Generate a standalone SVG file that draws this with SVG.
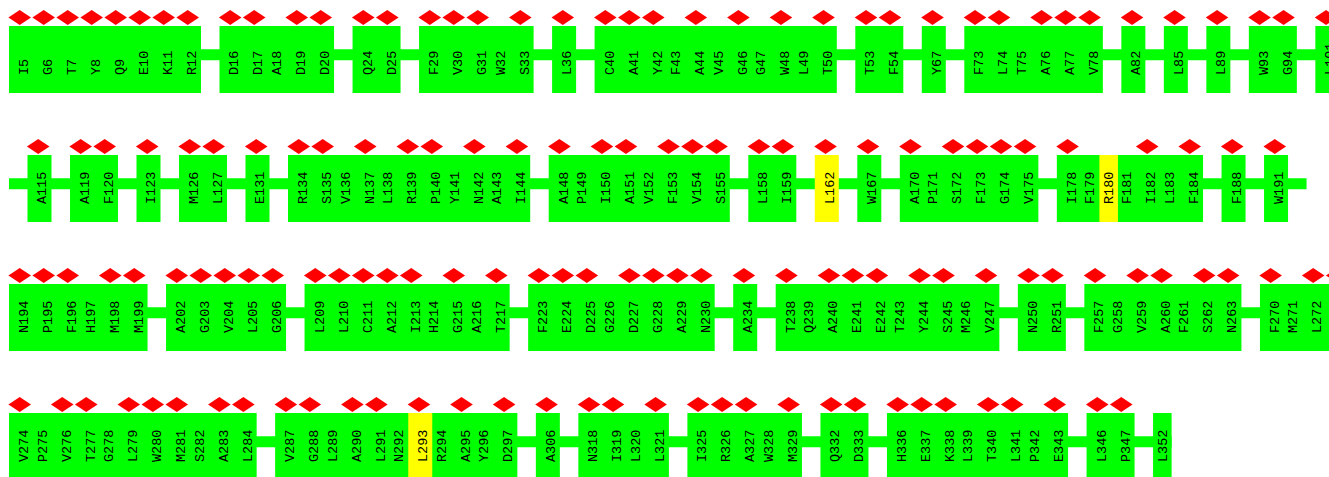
<svg xmlns="http://www.w3.org/2000/svg" width="1329" height="477" viewBox="0 0 1329 477">
<style>
.b{fill:#00ff00}
.y{fill:#ffff00}
.c{stroke:#00ff00;stroke-width:11;fill:none}
text{font-family:"Liberation Mono","Courier New",monospace;font-size:13.5px;fill:#000}
</style>
<defs><path id="dm" d="M-11.3 0L0-7.5L11.3 0L0 7.5Z" fill="#ff0000"/></defs>
<rect width="1329" height="477" fill="#ffffff"/>
<g id="connectors">
<line class="c" x1="9" y1="54.8" x2="1340" y2="54.8"/>
<line class="c" x1="9" y1="183.8" x2="1306.55" y2="183.8"/>
<line class="c" x1="9" y1="312.8" x2="1340" y2="312.8"/>
<line class="c" x1="9" y1="441.8" x2="1171.6" y2="441.8"/>
</g>
<!-- Row 1 -->
<g id="seg-I5-R12"><rect class="b" x="9" y="26" width="192" height="67"/>
<use href="#dm" x="19.7" y="17.5"/><use href="#dm" x="43.7" y="17.5"/><use href="#dm" x="67.7" y="17.5"/><use href="#dm" x="91.7" y="17.5"/><use href="#dm" x="115.7" y="17.5"/><use href="#dm" x="139.7" y="17.5"/><use href="#dm" x="163.7" y="17.5"/><use href="#dm" x="187.7" y="17.5"/>
<g transform="rotate(-90)"><text x="-75" y="27.95">I5</text><text x="-75" y="51.95">G6</text><text x="-75" y="75.95">T7</text><text x="-75" y="99.95">Y8</text><text x="-75" y="123.95">Q9</text><text x="-75" y="147.95">E10</text><text x="-75" y="171.95">K11</text><text x="-75" y="195.95">R12</text></g></g>
<g id="seg-D16-D20"><rect class="b" x="219.5" y="26" width="114.55" height="67"/>
<use href="#dm" x="230.2" y="17.5"/><use href="#dm" x="254.2" y="17.5"/><use href="#dm" x="296.75" y="17.5"/><use href="#dm" x="320.75" y="17.5"/>
<g transform="rotate(-90)"><text x="-75" y="238.45">D16</text><text x="-75" y="262.45">D17</text><text x="-75" y="281">A18</text><text x="-75" y="305">D19</text><text x="-75" y="329">D20</text></g></g>
<g id="seg-Q24-D25"><rect class="b" x="352.55" y="26" width="48" height="67"/>
<use href="#dm" x="363.25" y="17.5"/><use href="#dm" x="387.25" y="17.5"/>
<g transform="rotate(-90)"><text x="-75" y="371.5">Q24</text><text x="-75" y="395.5">D25</text></g></g>
<g id="seg-F29-S33"><rect class="b" x="419.05" y="26" width="114.55" height="67"/>
<use href="#dm" x="429.75" y="17.5"/><use href="#dm" x="453.75" y="17.5"/><use href="#dm" x="477.75" y="17.5"/><use href="#dm" x="520.3" y="17.5"/>
<g transform="rotate(-90)"><text x="-75" y="438">F29</text><text x="-75" y="462">V30</text><text x="-75" y="486">G31</text><text x="-75" y="504.55">W32</text><text x="-75" y="528.55">S33</text></g></g>
<g id="seg-L36"><rect class="b" x="552.1" y="26" width="24" height="67"/>
<use href="#dm" x="562.8" y="17.5"/>
<g transform="rotate(-90)"><text x="-75" y="571.05">L36</text></g></g>
<g id="seg-C40-T50"><rect class="b" x="594.6" y="26" width="242.2" height="67"/>
<use href="#dm" x="605.3" y="17.5"/><use href="#dm" x="629.3" y="17.5"/><use href="#dm" x="653.3" y="17.5"/><use href="#dm" x="695.85" y="17.5"/><use href="#dm" x="738.4" y="17.5"/><use href="#dm" x="780.95" y="17.5"/><use href="#dm" x="823.5" y="17.5"/>
<g transform="rotate(-90)"><text x="-75" y="613.55">C40</text><text x="-75" y="637.55">A41</text><text x="-75" y="661.55">Y42</text><text x="-75" y="680.1">F43</text><text x="-75" y="704.1">A44</text><text x="-75" y="722.65">V45</text><text x="-75" y="746.65">G46</text><text x="-75" y="765.2">G47</text><text x="-75" y="789.2">W48</text><text x="-75" y="807.75">L49</text><text x="-75" y="831.75">T50</text></g></g>
<g id="seg-T53-F54"><rect class="b" x="855.3" y="26" width="48" height="67"/>
<use href="#dm" x="866" y="17.5"/><use href="#dm" x="890" y="17.5"/>
<g transform="rotate(-90)"><text x="-75" y="874.25">T53</text><text x="-75" y="898.25">F54</text></g></g>
<g id="seg-Y67"><rect class="b" x="921.8" y="26" width="24" height="67"/>
<use href="#dm" x="932.5" y="17.5"/>
<g transform="rotate(-90)"><text x="-75" y="940.75">Y67</text></g></g>
<g id="seg-F73-V78"><rect class="b" x="964.3" y="26" width="138.55" height="67"/>
<use href="#dm" x="975" y="17.5"/><use href="#dm" x="999" y="17.5"/><use href="#dm" x="1041.55" y="17.5"/><use href="#dm" x="1065.55" y="17.5"/><use href="#dm" x="1089.55" y="17.5"/>
<g transform="rotate(-90)"><text x="-75" y="983.25">F73</text><text x="-75" y="1007.25">L74</text><text x="-75" y="1025.8">T75</text><text x="-75" y="1049.8">A76</text><text x="-75" y="1073.8">A77</text><text x="-75" y="1097.8">V78</text></g></g>
<g id="seg-A82"><rect class="b" x="1121.35" y="26" width="24" height="67"/>
<use href="#dm" x="1132.05" y="17.5"/>
<g transform="rotate(-90)"><text x="-75" y="1140.3">A82</text></g></g>
<g id="seg-L85"><rect class="b" x="1163.85" y="26" width="24" height="67"/>
<use href="#dm" x="1174.55" y="17.5"/>
<g transform="rotate(-90)"><text x="-75" y="1182.8">L85</text></g></g>
<g id="seg-L89"><rect class="b" x="1206.35" y="26" width="24" height="67"/>
<use href="#dm" x="1217.05" y="17.5"/>
<g transform="rotate(-90)"><text x="-75" y="1225.3">L89</text></g></g>
<g id="seg-W93-G94"><rect class="b" x="1248.85" y="26" width="48" height="67"/>
<use href="#dm" x="1259.55" y="17.5"/><use href="#dm" x="1283.55" y="17.5"/>
<g transform="rotate(-90)"><text x="-75" y="1267.8">W93</text><text x="-75" y="1291.8">G94</text></g></g>
<g id="seg-L101"><rect class="b" x="1315.35" y="26" width="30" height="67"/>
<use href="#dm" x="1326.05" y="17.5"/>
<g transform="rotate(-90)"><text x="-75" y="1334.3">L101</text></g></g>
<!-- Row 2 -->
<g id="seg-A115"><rect class="b" x="27.5" y="155" width="24" height="67"/>
<use href="#dm" x="38.2" y="146.5"/>
<g transform="rotate(-90)"><text x="-204" y="46.45">A115</text></g></g>
<g id="seg-A119-F120"><rect class="b" x="70" y="155" width="48" height="67"/>
<use href="#dm" x="80.7" y="146.5"/><use href="#dm" x="104.7" y="146.5"/>
<g transform="rotate(-90)"><text x="-204" y="88.95">A119</text><text x="-204" y="112.95">F120</text></g></g>
<g id="seg-I123"><rect class="b" x="136.5" y="155" width="24" height="67"/>
<use href="#dm" x="147.2" y="146.5"/>
<g transform="rotate(-90)"><text x="-204" y="155.45">I123</text></g></g>
<g id="seg-M126-L127"><rect class="b" x="179" y="155" width="48" height="67"/>
<use href="#dm" x="189.7" y="146.5"/><use href="#dm" x="213.7" y="146.5"/>
<g transform="rotate(-90)"><text x="-204" y="197.95">M126</text><text x="-204" y="221.95">L127</text></g></g>
<g id="seg-E131"><rect class="b" x="245.5" y="155" width="24" height="67"/>
<use href="#dm" x="256.2" y="146.5"/>
<g transform="rotate(-90)"><text x="-204" y="264.45">E131</text></g></g>
<g id="seg-R134-I144"><rect class="b" x="288" y="155" width="242.2" height="67"/>
<use href="#dm" x="298.7" y="146.5"/><use href="#dm" x="322.7" y="146.5"/><use href="#dm" x="365.25" y="146.5"/><use href="#dm" x="407.8" y="146.5"/><use href="#dm" x="431.8" y="146.5"/><use href="#dm" x="474.35" y="146.5"/><use href="#dm" x="516.9" y="146.5"/>
<g transform="rotate(-90)"><text x="-204" y="306.95">R134</text><text x="-204" y="330.95">S135</text><text x="-204" y="349.5">V136</text><text x="-204" y="373.5">N137</text><text x="-204" y="392.05">L138</text><text x="-204" y="416.05">R139</text><text x="-204" y="440.05">P140</text><text x="-204" y="458.6">Y141</text><text x="-204" y="482.6">N142</text><text x="-204" y="501.15">A143</text><text x="-204" y="525.15">I144</text></g></g>
<g id="seg-A148-S155"><rect class="b" x="548.7" y="155" width="181.1" height="67"/>
<use href="#dm" x="559.4" y="146.5"/><use href="#dm" x="601.95" y="146.5"/><use href="#dm" x="625.95" y="146.5"/><use href="#dm" x="668.5" y="146.5"/><use href="#dm" x="692.5" y="146.5"/><use href="#dm" x="716.5" y="146.5"/>
<g transform="rotate(-90)"><text x="-204" y="567.65">A148</text><text x="-204" y="586.2">P149</text><text x="-204" y="610.2">I150</text><text x="-204" y="634.2">A151</text><text x="-204" y="652.75">V152</text><text x="-204" y="676.75">F153</text><text x="-204" y="700.75">V154</text><text x="-204" y="724.75">S155</text></g></g>
<g id="seg-L158-I159"><rect class="b" x="748.3" y="155" width="48" height="67"/>
<use href="#dm" x="759" y="146.5"/><use href="#dm" x="783" y="146.5"/>
<g transform="rotate(-90)"><text x="-204" y="767.25">L158</text><text x="-204" y="791.25">I159</text></g></g>
<g id="seg-L162"><rect class="y" x="814.8" y="155" width="24" height="67"/>
<use href="#dm" x="825.5" y="146.5"/>
<g transform="rotate(-90)"><text x="-204" y="833.75">L162</text></g></g>
<g id="seg-W167"><rect class="b" x="857.3" y="155" width="24" height="67"/>
<use href="#dm" x="868" y="146.5"/>
<g transform="rotate(-90)"><text x="-204" y="876.25">W167</text></g></g>
<g id="seg-A170-V175"><rect class="b" x="899.8" y="155" width="138.55" height="67"/>
<use href="#dm" x="910.5" y="146.5"/><use href="#dm" x="953.05" y="146.5"/><use href="#dm" x="977.05" y="146.5"/><use href="#dm" x="1001.05" y="146.5"/><use href="#dm" x="1025.05" y="146.5"/>
<g transform="rotate(-90)"><text x="-204" y="918.75">A170</text><text x="-204" y="937.3">P171</text><text x="-204" y="961.3">S172</text><text x="-204" y="985.3">F173</text><text x="-204" y="1009.3">G174</text><text x="-204" y="1033.3">V175</text></g></g>
<g id="seg-I178-F184"><rect class="b" x="1056.85" y="155" width="146.2" height="67"/><rect class="y" x="1099.4" y="155" width="18.55" height="67"/>
<use href="#dm" x="1067.55" y="146.5"/><use href="#dm" x="1147.2" y="146.5"/><use href="#dm" x="1189.75" y="146.5"/>
<g transform="rotate(-90)"><text x="-204" y="1075.8">I178</text><text x="-204" y="1094.35">F179</text><text x="-204" y="1112.9">R180</text><text x="-204" y="1131.45">F181</text><text x="-204" y="1155.45">I182</text><text x="-204" y="1174">L183</text><text x="-204" y="1198">F184</text></g></g>
<g id="seg-F188"><rect class="b" x="1221.55" y="155" width="24" height="67"/>
<use href="#dm" x="1232.25" y="146.5"/>
<g transform="rotate(-90)"><text x="-204" y="1240.5">F188</text></g></g>
<g id="seg-W191"><rect class="b" x="1264.05" y="155" width="24" height="67"/>
<use href="#dm" x="1274.75" y="146.5"/>
<g transform="rotate(-90)"><text x="-204" y="1283">W191</text></g></g>
<!-- Row 3 -->
<g id="seg-N194-M199"><rect class="b" x="9" y="284" width="138.55" height="67"/>
<use href="#dm" x="19.7" y="275.5"/><use href="#dm" x="43.7" y="275.5"/><use href="#dm" x="67.7" y="275.5"/><use href="#dm" x="110.25" y="275.5"/><use href="#dm" x="134.25" y="275.5"/>
<g transform="rotate(-90)"><text x="-333" y="27.95">N194</text><text x="-333" y="51.95">P195</text><text x="-333" y="75.95">F196</text><text x="-333" y="94.5">H197</text><text x="-333" y="118.5">M198</text><text x="-333" y="142.5">M199</text></g></g>
<g id="seg-A202-G206"><rect class="b" x="166.05" y="284" width="120" height="67"/>
<use href="#dm" x="176.75" y="275.5"/><use href="#dm" x="200.75" y="275.5"/><use href="#dm" x="224.75" y="275.5"/><use href="#dm" x="248.75" y="275.5"/><use href="#dm" x="272.75" y="275.5"/>
<g transform="rotate(-90)"><text x="-333" y="185">A202</text><text x="-333" y="209">G203</text><text x="-333" y="233">V204</text><text x="-333" y="257">L205</text><text x="-333" y="281">G206</text></g></g>
<g id="seg-L209-T217"><rect class="b" x="304.55" y="284" width="205.1" height="67"/>
<use href="#dm" x="315.25" y="275.5"/><use href="#dm" x="339.25" y="275.5"/><use href="#dm" x="363.25" y="275.5"/><use href="#dm" x="387.25" y="275.5"/><use href="#dm" x="411.25" y="275.5"/><use href="#dm" x="453.8" y="275.5"/><use href="#dm" x="496.35" y="275.5"/>
<g transform="rotate(-90)"><text x="-333" y="323.5">L209</text><text x="-333" y="347.5">L210</text><text x="-333" y="371.5">C211</text><text x="-333" y="395.5">A212</text><text x="-333" y="419.5">I213</text><text x="-333" y="438.05">H214</text><text x="-333" y="462.05">G215</text><text x="-333" y="480.6">A216</text><text x="-333" y="504.6">T217</text></g></g>
<g id="seg-F223-N230"><rect class="b" x="528.15" y="284" width="186.55" height="67"/>
<use href="#dm" x="538.85" y="275.5"/><use href="#dm" x="562.85" y="275.5"/><use href="#dm" x="586.85" y="275.5"/><use href="#dm" x="629.4" y="275.5"/><use href="#dm" x="653.4" y="275.5"/><use href="#dm" x="677.4" y="275.5"/><use href="#dm" x="701.4" y="275.5"/>
<g transform="rotate(-90)"><text x="-333" y="547.1">F223</text><text x="-333" y="571.1">E224</text><text x="-333" y="595.1">D225</text><text x="-333" y="613.65">G226</text><text x="-333" y="637.65">D227</text><text x="-333" y="661.65">G228</text><text x="-333" y="685.65">A229</text><text x="-333" y="709.65">N230</text></g></g>
<g id="seg-A234"><rect class="b" x="733.2" y="284" width="24" height="67"/>
<use href="#dm" x="743.9" y="275.5"/>
<g transform="rotate(-90)"><text x="-333" y="752.15">A234</text></g></g>
<g id="seg-T238-V247"><rect class="b" x="775.7" y="284" width="223.65" height="67"/>
<use href="#dm" x="786.4" y="275.5"/><use href="#dm" x="828.95" y="275.5"/><use href="#dm" x="852.95" y="275.5"/><use href="#dm" x="876.95" y="275.5"/><use href="#dm" x="919.5" y="275.5"/><use href="#dm" x="943.5" y="275.5"/><use href="#dm" x="986.05" y="275.5"/>
<g transform="rotate(-90)"><text x="-333" y="794.65">T238</text><text x="-333" y="813.2">Q239</text><text x="-333" y="837.2">A240</text><text x="-333" y="861.2">E241</text><text x="-333" y="885.2">E242</text><text x="-333" y="903.75">T243</text><text x="-333" y="927.75">Y244</text><text x="-333" y="951.75">S245</text><text x="-333" y="970.3">M246</text><text x="-333" y="994.3">V247</text></g></g>
<g id="seg-N250-R251"><rect class="b" x="1017.85" y="284" width="48" height="67"/>
<use href="#dm" x="1028.55" y="275.5"/><use href="#dm" x="1052.55" y="275.5"/>
<g transform="rotate(-90)"><text x="-333" y="1036.8">N250</text><text x="-333" y="1060.8">R251</text></g></g>
<g id="seg-F257-N263"><rect class="b" x="1084.35" y="284" width="157.1" height="67"/>
<use href="#dm" x="1095.05" y="275.5"/><use href="#dm" x="1137.6" y="275.5"/><use href="#dm" x="1161.6" y="275.5"/><use href="#dm" x="1204.15" y="275.5"/><use href="#dm" x="1228.15" y="275.5"/>
<g transform="rotate(-90)"><text x="-333" y="1103.3">F257</text><text x="-333" y="1121.85">G258</text><text x="-333" y="1145.85">V259</text><text x="-333" y="1169.85">A260</text><text x="-333" y="1188.4">F261</text><text x="-333" y="1212.4">S262</text><text x="-333" y="1236.4">N263</text></g></g>
<g id="seg-F270-L272"><rect class="b" x="1259.95" y="284" width="80" height="67"/>
<use href="#dm" x="1270.65" y="275.5"/><use href="#dm" x="1313.2" y="275.5"/><use href="#dm" x="1337.2" y="275.5"/>
<g transform="rotate(-90)"><text x="-333" y="1278.9">F270</text><text x="-333" y="1297.45">M271</text><text x="-333" y="1321.45">L272</text></g></g>
<!-- Row 4 -->
<g id="seg-V274-L284"><rect class="b" x="9" y="413" width="247.65" height="67"/>
<use href="#dm" x="19.7" y="404.5"/><use href="#dm" x="62.25" y="404.5"/><use href="#dm" x="86.25" y="404.5"/><use href="#dm" x="128.8" y="404.5"/><use href="#dm" x="152.8" y="404.5"/><use href="#dm" x="176.8" y="404.5"/><use href="#dm" x="219.35" y="404.5"/><use href="#dm" x="243.35" y="404.5"/>
<g transform="rotate(-90)"><text x="-462" y="27.95">V274</text><text x="-462" y="46.5">P275</text><text x="-462" y="70.5">V276</text><text x="-462" y="94.5">T277</text><text x="-462" y="113.05">G278</text><text x="-462" y="137.05">L279</text><text x="-462" y="161.05">W280</text><text x="-462" y="185.05">M281</text><text x="-462" y="203.6">S282</text><text x="-462" y="227.6">A283</text><text x="-462" y="251.6">L284</text></g></g>
<g id="seg-V287-D297"><rect class="b" x="275.15" y="413" width="242.2" height="67"/><rect class="y" x="408.25" y="413" width="24" height="67"/>
<use href="#dm" x="285.85" y="404.5"/><use href="#dm" x="309.85" y="404.5"/><use href="#dm" x="352.4" y="404.5"/><use href="#dm" x="376.4" y="404.5"/><use href="#dm" x="418.95" y="404.5"/><use href="#dm" x="461.5" y="404.5"/><use href="#dm" x="504.05" y="404.5"/>
<g transform="rotate(-90)"><text x="-462" y="294.1">V287</text><text x="-462" y="318.1">G288</text><text x="-462" y="336.65">L289</text><text x="-462" y="360.65">A290</text><text x="-462" y="384.65">L291</text><text x="-462" y="403.2">N292</text><text x="-462" y="427.2">L293</text><text x="-462" y="445.75">R294</text><text x="-462" y="469.75">A295</text><text x="-462" y="488.3">Y296</text><text x="-462" y="512.3">D297</text></g></g>
<g id="seg-A306"><rect class="b" x="535.85" y="413" width="24" height="67"/>
<use href="#dm" x="546.55" y="404.5"/>
<g transform="rotate(-90)"><text x="-462" y="554.8">A306</text></g></g>
<g id="seg-N318-L321"><rect class="b" x="578.35" y="413" width="90.55" height="67"/>
<use href="#dm" x="589.05" y="404.5"/><use href="#dm" x="613.05" y="404.5"/><use href="#dm" x="655.6" y="404.5"/>
<g transform="rotate(-90)"><text x="-462" y="597.3">N318</text><text x="-462" y="621.3">I319</text><text x="-462" y="639.85">L320</text><text x="-462" y="663.85">L321</text></g></g>
<g id="seg-I325-M329"><rect class="b" x="687.4" y="413" width="114.55" height="67"/>
<use href="#dm" x="698.1" y="404.5"/><use href="#dm" x="722.1" y="404.5"/><use href="#dm" x="746.1" y="404.5"/><use href="#dm" x="788.65" y="404.5"/>
<g transform="rotate(-90)"><text x="-462" y="706.35">I325</text><text x="-462" y="730.35">R326</text><text x="-462" y="754.35">A327</text><text x="-462" y="772.9">W328</text><text x="-462" y="796.9">M329</text></g></g>
<g id="seg-Q332-D333"><rect class="b" x="820.45" y="413" width="48" height="67"/>
<use href="#dm" x="831.15" y="404.5"/><use href="#dm" x="855.15" y="404.5"/>
<g transform="rotate(-90)"><text x="-462" y="839.4">Q332</text><text x="-462" y="863.4">D333</text></g></g>
<g id="seg-H336-E343"><rect class="b" x="886.95" y="413" width="181.1" height="67"/>
<use href="#dm" x="897.65" y="404.5"/><use href="#dm" x="921.65" y="404.5"/><use href="#dm" x="945.65" y="404.5"/><use href="#dm" x="988.2" y="404.5"/><use href="#dm" x="1012.2" y="404.5"/><use href="#dm" x="1054.75" y="404.5"/>
<g transform="rotate(-90)"><text x="-462" y="905.9">H336</text><text x="-462" y="929.9">E337</text><text x="-462" y="953.9">K338</text><text x="-462" y="972.45">L339</text><text x="-462" y="996.45">T340</text><text x="-462" y="1020.45">L341</text><text x="-462" y="1039">P342</text><text x="-462" y="1063">E343</text></g></g>
<g id="seg-L346-P347"><rect class="b" x="1086.55" y="413" width="48" height="67"/>
<use href="#dm" x="1097.25" y="404.5"/><use href="#dm" x="1121.25" y="404.5"/>
<g transform="rotate(-90)"><text x="-462" y="1105.5">L346</text><text x="-462" y="1129.5">P347</text></g></g>
<g id="seg-L352"><rect class="b" x="1153.05" y="413" width="18.55" height="67"/>
<g transform="rotate(-90)"><text x="-462" y="1166.55">L352</text></g></g>
</svg>
